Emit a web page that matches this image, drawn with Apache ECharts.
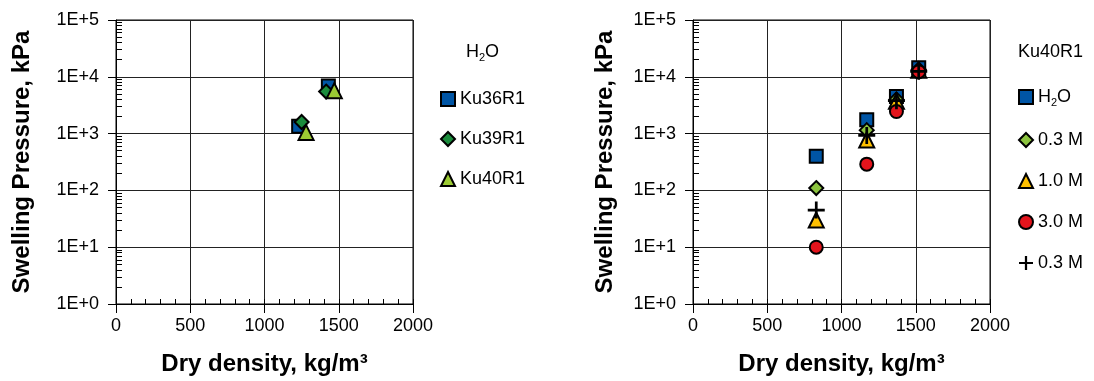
<!DOCTYPE html>
<html>
<head>
<meta charset="utf-8">
<script src="https://cdn.jsdelivr.net/npm/echarts@6/dist/echarts.min.js"></script>
<style>html,body{margin:0;padding:0;background:#fff}#c{width:1094px;height:381px}</style>
</head>
<body>
<div id="c"></div>
<script>
// ---- Left chart (H2O) ----
const leftNames = ['Ku36R1', 'Ku39R1', 'Ku40R1'];
const ku36Density = [1230, 1430];
const ku36Pressure = [1350, 6900];
const ku39Density = [1250, 1415];
const ku39Pressure = [1600, 5500];
const ku40Density = [1280, 1470];
const ku40Pressure = [1050, 5700];

// ---- Right chart (Ku40R1) ----
const rightNames = ['H2O', '0.3 M', '1.0 M', '3.0 M', '0.3 M (b)'];
const rightLabels = ['{a|H}{s|2}{a|O}', '{a|0.3 M}', '{a|1.0 M}', '{a|3.0 M}', '{a|0.3 M}'];
const rightDensity = [830, 1170, 1370, 1520];
const pH2O = [400, 1750, 4500, 14500];
const p03M = [110, 1150, 4000, 13500];
const p10M = [30, 770, 3700, 13000];
const p30M = [10, 290, 2450, 12300];
const p03Mb = [45, 930, 3800, 12500];

const xTicks = [0, 500, 1000, 1500, 2000];
const yDecades = [1, 10, 100, 1000, 10000, 100000];

function pairs(xs, ys) { return xs.map((x, i) => [x, ys[i]]); }
const minorLog = [];
for (let d = 1; d < 100000; d *= 10) for (let k = 2; k <= 9; k++) minorLog.push(k * d);

const BLUE = '#0055a5', DKGREEN = '#1b8c3c', LTGREEN = '#9ccb34',
      YGREEN = '#8cc43f', AMBER = '#ffc000', RED = '#e3141c';
const PLUS = 'path://M4.2,0H5.8V4.2H10V5.8H5.8V10H4.2V5.8H0V4.2H4.2Z';
const FONT = 'Liberation Sans, Arial, sans-serif';

const axisText = { color: '#000', fontSize: 18, fontFamily: FONT };
const titleText = { color: '#000', fontSize: 24, fontWeight: 'bold', fontFamily: FONT };

function xMain(g) {
  return {
    gridIndex: g, type: 'value', min: 0, max: 2000, interval: 500,
    name: 'Dry density, kg/m³', nameLocation: 'middle', nameGap: 48, nameTextStyle: titleText,
    axisLine: { show: true, lineStyle: { color: '#000', width: 1 } },
    axisTick: { show: true, inside: false, length: 9, lineStyle: { color: '#000' } },
    axisLabel: Object.assign({ margin: 13, customValues: xTicks, formatter: v => String(v) }, axisText),
    splitLine: { show: true, lineStyle: { color: '#222', width: 1 } }
  };
}
function xMinor(g) {
  return {
    gridIndex: g, type: 'value', min: 0, max: 2000, interval: 100, position: 'bottom',
    axisLine: { show: false }, axisLabel: { show: false }, splitLine: { show: false },
    axisTick: { show: true, inside: true, length: 5, lineStyle: { color: '#000' } }
  };
}
function yMain(g, gap) {
  return {
    gridIndex: g, type: 'log', logBase: 10, min: 1, max: 100000,
    name: 'Swelling Pressure, kPa', nameLocation: 'middle', nameGap: gap, nameTextStyle: titleText,
    axisLine: { show: true, lineStyle: { color: '#000', width: 1 } },
    axisTick: { show: true, inside: false, length: 8, customValues: yDecades, lineStyle: { color: '#000' } },
    axisLabel: Object.assign({ margin: 17, customValues: yDecades,
      formatter: v => '1E+' + Math.round(Math.log10(v)) }, axisText),
    splitLine: { show: true, lineStyle: { color: '#222', width: 1 } }
  };
}
function yMinor(g) {
  return {
    gridIndex: g, type: 'log', logBase: 10, min: 1, max: 100000, position: 'left',
    axisLine: { show: false }, axisLabel: { show: false }, splitLine: { show: false },
    axisTick: { show: true, inside: true, length: 6, customValues: minorLog, lineStyle: { color: '#000' } }
  };
}

function sc(name, x, y, data, symbol, size, color, z, noBorder) {
  return {
    name: name, type: 'scatter', xAxisIndex: x, yAxisIndex: y, data: data,
    symbol: symbol, symbolSize: size, z: z,
    itemStyle: noBorder ? { color: '#000', opacity: 1 } : { color: color, borderColor: '#000', borderWidth: 2, opacity: 1 },
    emphasis: { disabled: true }
  };
}

const rich = {
  a: { fontSize: 18, fontWeight: 'normal', color: '#000', fontFamily: FONT, lineHeight: 22 },
  s: { fontSize: 11, fontWeight: 'normal', color: '#000', fontFamily: FONT, verticalAlign: 'bottom', lineHeight: 22, padding: [9, 0, 0, 0] }
};

const option = {
  animation: false,
  backgroundColor: '#fff',
  grid: [
    { left: 116, top: 20, width: 297, height: 284, show: true, borderColor: '#000', borderWidth: 1 },
    { left: 693, top: 20, width: 297, height: 284, show: true, borderColor: '#000', borderWidth: 1 }
  ],
  title: [
    { text: '{a|H}{s|2}{a|O}', left: 461, top: 36, textStyle: { fontWeight: 'normal', rich: rich } },
    { text: 'Ku40R1', left: 1013, top: 38, textStyle: { fontSize: 18, fontWeight: 'normal', color: '#000', fontFamily: FONT } }
  ],
  legend: [
    { data: leftNames, orient: 'vertical', left: 435, top: 85, itemWidth: 14, itemHeight: 14, itemGap: 22,
      textStyle: { fontSize: 18, color: '#000', fontFamily: FONT }, selectedMode: false },
    { data: rightNames, orient: 'vertical', left: 1013, top: 83, itemWidth: 14, itemHeight: 14, itemGap: 23,
      formatter: n => rightLabels[rightNames.indexOf(n)],
      textStyle: { fontSize: 18, color: '#000', fontFamily: FONT, rich: rich }, selectedMode: false }
  ],
  xAxis: [xMain(0), xMinor(0), xMain(1), xMinor(1)],
  yAxis: [yMain(0, 82), yMinor(0), yMain(1, 76), yMinor(1)],
  series: [
    sc('Ku36R1', 0, 0, pairs(ku36Density, ku36Pressure), 'rect', 13, BLUE, 3),
    sc('Ku39R1', 0, 0, pairs(ku39Density, ku39Pressure), 'diamond', 14, DKGREEN, 4),
    sc('Ku40R1', 0, 0, pairs(ku40Density, ku40Pressure), 'triangle', 15, LTGREEN, 5),
    sc('H2O', 2, 2, pairs(rightDensity, pH2O), 'rect', 13, BLUE, 3),
    sc('0.3 M', 2, 2, pairs(rightDensity, p03M), 'diamond', 14, YGREEN, 4),
    sc('1.0 M', 2, 2, pairs(rightDensity, p10M), 'triangle', 15, AMBER, 5),
    sc('3.0 M', 2, 2, pairs(rightDensity, p30M), 'circle', 13, RED, 6),
    sc('0.3 M (b)', 2, 2, pairs(rightDensity, p03Mb), PLUS, 17, '#000', 7, true)
  ]
};

const chart = echarts.init(document.getElementById('c'), null, { renderer: 'canvas' });
chart.setOption(option);
</script>
</body>
</html>
